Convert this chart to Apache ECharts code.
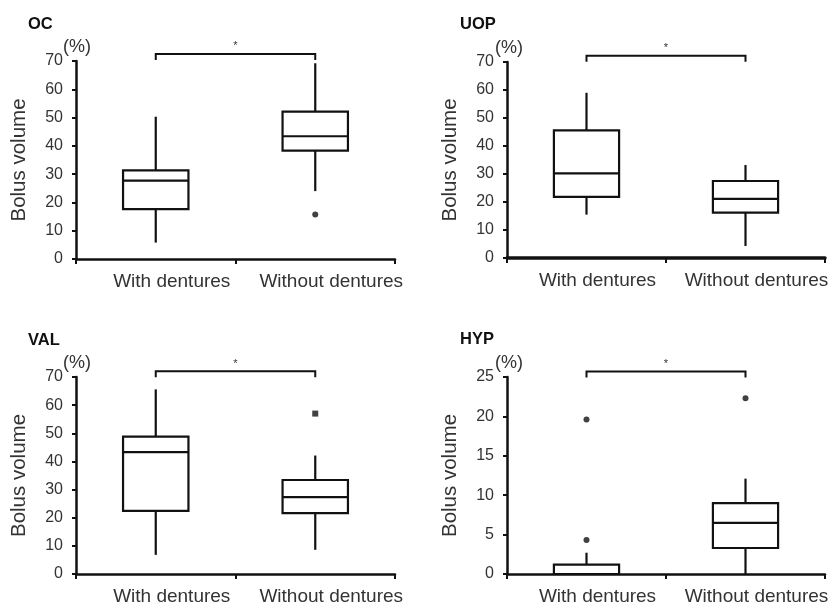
<!DOCTYPE html>
<html><head><meta charset="utf-8">
<script src="https://cdn.jsdelivr.net/npm/echarts@6/dist/echarts.min.js"></script>
<style>html,body{margin:0;padding:0;background:#fff}#c{width:832px;height:605px}</style>
</head><body><div id="c"></div>
<script>
const categories = ['With dentures', 'Without dentures'];
// [min, Q1, median, Q3, max]
const ocWith = [5.8, 17.6, 27.7, 31.3, 50.3];
const ocWithout = [24.0, 38.3, 43.4, 52.1, 69.2];
const ocOutliers = [[1, 15.7]];
const uopWith = [15.5, 21.8, 30.2, 45.6, 59.0];
const uopWithout = [4.3, 16.2, 21.1, 27.5, 33.2];
const uopOutliers = [];
const valWith = [6.8, 22.4, 43.3, 48.8, 65.6];
const valWithout = [8.6, 21.6, 27.3, 33.4, 42.1];
const valOutliers = [[1, 57.0]];
const hypWith = [0, 0, 0, 1.2, 2.7];
const hypWithout = [0, 3.3, 6.5, 9.0, 12.1];
const hypOutliers = [[0, 19.6], [0, 4.3], [1, 22.3]];
const brackets = [72.5, 72.2, 72.0, 25.7];
const panelTitles = ['OC', 'UOP', 'VAL', 'HYP'];
const yMax = [70, 70, 70, 25];
const yInterval = [10, 10, 10, 5];

const panels = [
  {box: [ocWith, ocWithout], out: ocOutliers, sym: 'circle'},
  {box: [uopWith, uopWithout], out: uopOutliers, sym: 'circle'},
  {box: [valWith, valWithout], out: valOutliers, sym: 'rect'},
  {box: [hypWith, hypWithout], out: hypOutliers, sym: 'circle'}
];
const grids = [
  {left: 76, top: 61, width: 319, height: 198},
  {left: 507, top: 62, width: 318, height: 196},
  {left: 76, top: 377, width: 319, height: 197},
  {left: 507, top: 377, width: 318, height: 197}
];
const labelShift = [32, 22, 32, 22];
const titlePos = [[28, 16], [460, 16], [28, 332], [460, 331]];
const pctPos = [[63, 38], [495, 39], [63, 354], [495, 354]];
const FONT = 'Liberation Sans, Arial, sans-serif';
const INK = '#111';

const option = {
  backgroundColor: '#fff',
  animation: false,
  title: [],
  grid: grids.map(g => Object.assign({containLabel: false, outerBoundsMode: 'none'}, g)),
  xAxis: [], yAxis: [], series: []
};

panels.forEach((p, i) => {
  option.title.push({text: panelTitles[i], left: titlePos[i][0], top: titlePos[i][1], padding: 0,
    textStyle: {fontFamily: FONT, fontSize: 16.5, fontWeight: 'bold', color: '#111'}});
  option.title.push({text: '(%)', left: pctPos[i][0], top: pctPos[i][1], padding: 0,
    textStyle: {fontFamily: FONT, fontSize: 18, fontWeight: 'normal', color: '#333'}});
  option.xAxis.push({
    type: 'category', gridIndex: i, data: categories, boundaryGap: true,
    axisLine: {lineStyle: {color: INK, width: i === 1 ? 3.5 : 2.5}},
    axisTick: {show: true, interval: 0, length: 5, lineStyle: {color: INK, width: 2}},
    axisLabel: {interval: 0, hideOverlap: false, fontFamily: FONT, fontSize: 19, color: '#333',
      margin: 13, padding: [0, 0, 0, labelShift[i]]},
    splitLine: {show: false}
  });
  option.yAxis.push({
    type: 'value', gridIndex: i, min: 0, max: yMax[i], interval: yInterval[i],
    name: 'Bolus volume', nameLocation: 'middle', nameRotate: 90, nameGap: 46,
    nameTextStyle: {fontFamily: FONT, fontSize: 20.5, color: '#333'},
    axisLine: {show: true, lineStyle: {color: INK, width: 2.5}},
    axisTick: {show: true, length: 4, lineStyle: {color: INK, width: 2}},
    axisLabel: {fontFamily: FONT, fontSize: 16, color: '#333', margin: 13},
    splitLine: {show: false}
  });
  option.series.push({
    type: 'custom', xAxisIndex: i, yAxisIndex: i, clip: false,
    data: p.box.map((b, k) => [k].concat(b)),
    encode: {x: 0, y: [1, 2, 3, 4, 5]},
    renderItem: function (params, api) {
      const x = api.value(0);
      const w = api.size([1, 0])[0] * 0.41;
      const pMin = api.coord([x, api.value(1)]);
      const pQ1 = api.coord([x, api.value(2)]);
      const pMed = api.coord([x, api.value(3)]);
      const pQ3 = api.coord([x, api.value(4)]);
      const pMax = api.coord([x, api.value(5)]);
      const cx = pQ1[0];
      const st = {stroke: INK, lineWidth: 2.2, fill: null};
      return {type: 'group', children: [
        {type: 'line', shape: {x1: cx, y1: pQ3[1], x2: cx, y2: pMax[1]}, style: st},
        {type: 'line', shape: {x1: cx, y1: pMin[1], x2: cx, y2: pQ1[1]}, style: st},
        {type: 'rect', shape: {x: cx - w / 2, y: pQ3[1], width: w, height: pQ1[1] - pQ3[1]},
          style: {stroke: INK, lineWidth: 2.2, fill: '#fff'}},
        {type: 'line', shape: {x1: cx - w / 2, y1: pMed[1], x2: cx + w / 2, y2: pMed[1]}, style: st}
      ]};
    }
  });
  option.series.push({
    type: 'scatter', xAxisIndex: i, yAxisIndex: i, data: p.out,
    symbol: p.sym, symbolSize: 6, itemStyle: {color: INK}, z: 5
  });
  option.series.push({
    type: 'custom', xAxisIndex: i, yAxisIndex: i, clip: false,
    data: [[0, 1, brackets[i]]],
    encode: {x: [0, 1], y: 2},
    renderItem: function (params, api) {
      const a = api.coord([api.value(0), api.value(2)]);
      const b = api.coord([api.value(1), api.value(2)]);
      return {type: 'group', children: [
        {type: 'polyline', shape: {points: [[a[0], a[1] + 6], a, b, [b[0], b[1] + 6]]},
          style: {stroke: INK, lineWidth: 2, fill: null}},
        {type: 'text', style: {text: '*', x: (a[0] + b[0]) / 2, y: a[1] - 2,
          align: 'center', verticalAlign: 'bottom', font: '11px ' + FONT, fill: '#333'}}
      ]};
    }
  });
});

const chart = echarts.init(document.getElementById('c'), null, {renderer: 'canvas'});
chart.setOption(option);
</script>
</body></html>
